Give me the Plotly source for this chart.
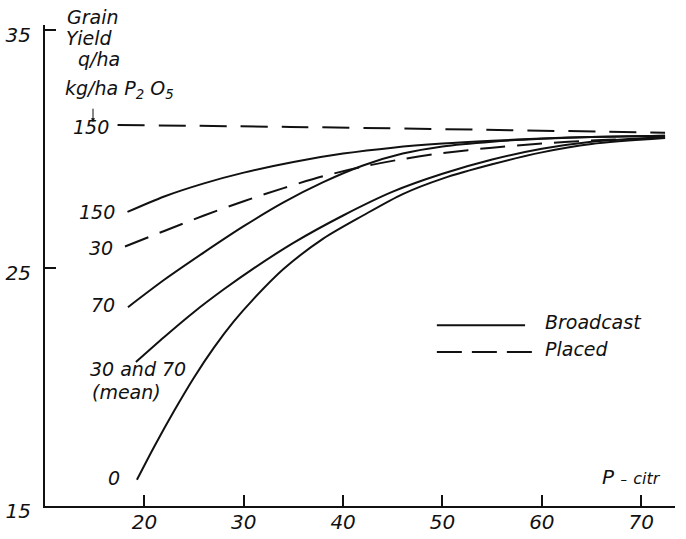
import plotly.graph_objects as go

# ---------------- data ----------------
bc150_x = [18.3, 22, 26, 30, 35, 40, 45, 50, 55, 60, 65, 72.4]
bc150_y = [27.35, 28.0, 28.55, 29.0, 29.45, 29.8, 30.05, 30.22, 30.34, 30.43, 30.5, 30.55]

bc70_x = [18.35, 22, 26, 30, 34, 38, 42, 46, 50, 55, 60, 65, 72.4]
bc70_y = [23.35, 24.5, 25.65, 26.75, 27.75, 28.6, 29.3, 29.8, 30.1, 30.3, 30.42, 30.5, 30.55]

mean_x = [19.15, 22, 25, 28, 31, 35, 40, 45, 50, 55, 60, 65, 72.4]
mean_y = [21.05, 22.1, 23.15, 24.1, 24.98, 26.05, 27.2, 28.2, 28.95, 29.55, 30.0, 30.3, 30.5]

zero_x = [19.25, 21, 23, 25, 27, 29, 31, 34, 38, 42, 46, 50, 55, 60, 65, 72.4]
zero_y = [16.1, 17.5, 19.0, 20.4, 21.65, 22.75, 23.7, 24.95, 26.23, 27.2, 28.1, 28.75, 29.35, 29.85, 30.2, 30.45]

pl30_x = [18.05, 22, 26, 30, 34, 38, 42, 46, 50, 55, 60, 65, 72.4]
pl30_y = [25.9, 26.55, 27.2, 27.8, 28.35, 28.85, 29.25, 29.57, 29.82, 30.05, 30.22, 30.35, 30.45]

pl150_x = [17.3, 34.7, 72.4]
pl150_y = [31.0, 30.92, 30.68]

x_ticks = [20, 30, 40, 50, 60, 70]
y_ticks = [15, 25, 35]

# ---------------- figure ----------------
FONT = "DejaVu Sans"
INK = "#111111"

fig = go.Figure()

def add_line(x, y, dash):
    fig.add_trace(go.Scatter(x=x, y=y, mode="lines", line_shape="spline",
                             line=dict(color=INK, width=2, dash=dash, smoothing=0.8),
                             showlegend=False, hoverinfo="skip"))

add_line(bc150_x, bc150_y, "solid")
add_line(bc70_x, bc70_y, "solid")
add_line(mean_x, mean_y, "solid")
add_line(zero_x, zero_y, "solid")
add_line(pl30_x, pl30_y, "25px,12px")
add_line(pl150_x, pl150_y, "27px,14px")

lab_font = dict(family=FONT, size=19, color=INK, style="italic")

def curve_label(text, x, y, xanchor, xshift, yshift):
    fig.add_annotation(x=x, y=y, xref="x", yref="y", text=text, showarrow=False,
                       xanchor=xanchor, yanchor="middle", xshift=xshift, yshift=yshift,
                       font=lab_font)

curve_label("150", bc150_x[0], bc150_y[0], "right", -10, 0)
curve_label("30", pl30_x[0], pl30_y[0], "right", -10, -2)
curve_label("70", bc70_x[0], bc70_y[0], "right", -11, 2)
curve_label("0", zero_x[0], zero_y[0], "right", -15, 2)
curve_label("150", pl150_x[0], pl150_y[0], "right", -7, -2)
curve_label("30 and 70", mean_x[0], mean_y[0], "left", -48, -7)
curve_label("(mean)", mean_x[0], mean_y[0], "left", -46, -30)

# axis title block
def paper_text(text, x, y, xanchor="center", size=19):
    fig.add_annotation(x=x, y=y, xref="paper", yref="paper",
                       text=text, showarrow=False,
                       xanchor=xanchor, yanchor="middle",
                       font=dict(family=FONT, size=size, color=INK, style="italic"))

paper_text("Grain", 0.0762, 1.0166)
paper_text("Yield", 0.0714, 0.973)
paper_text("q/ha", 0.0857, 0.929)
paper_text("kg/ha P<sub>2</sub> O<sub>5</sub>", 0.119, 0.865)
fig.add_annotation(x=0.0762, y=0.798, xref="paper", yref="paper", text="",
                   showarrow=True, ax=0, ay=-15, arrowhead=2, arrowsize=0.8,
                   arrowwidth=1, arrowcolor=INK)

# legend drawn by hand
fig.add_shape(type="line", xref="paper", yref="paper", x0=0.622, x1=0.762,
              y0=0.376, y1=0.376, line=dict(color=INK, width=2))
fig.add_shape(type="line", xref="paper", yref="paper", x0=0.622, x1=0.773,
              y0=0.320, y1=0.320, line=dict(color=INK, width=2, dash="25px,10px"))
paper_text("Broadcast", 0.790, 0.3825, xanchor="left")
paper_text("Placed", 0.790, 0.326, xanchor="left")

# x axis title
paper_text("P <span style='font-size:13px'>–</span> <span style='font-size:16px'>citr</span>",
           0.881, 0.060, xanchor="left", size=20)

tick_font = dict(family=FONT, size=20, color=INK, style="italic")

fig.update_layout(
    width=686, height=539,
    margin=dict(l=45, r=11, t=25, b=33),
    paper_bgcolor="white", plot_bgcolor="white",
    showlegend=False,
    xaxis=dict(range=[10, 73.4], tickvals=x_ticks, ticktext=[str(v) for v in x_ticks],
               ticks="inside", ticklen=11, tickwidth=1.5, tickcolor=INK,
               showline=True, linewidth=2, linecolor=INK, showgrid=False,
               zeroline=False, tickfont=tick_font, fixedrange=True, automargin=False,
               ticklabelstandoff=-3),
    yaxis=dict(range=[15, 35.2], tickvals=y_ticks, ticktext=[str(v) for v in y_ticks],
               ticks="inside", ticklen=11, tickwidth=1.5, tickcolor=INK,
               showline=True, linewidth=2, linecolor=INK, showgrid=False,
               zeroline=False, tickfont=tick_font, ticklabelstandoff=8,
               ticklabelshift=5, fixedrange=True, automargin=False),
)

fig.write_html("out.html")
